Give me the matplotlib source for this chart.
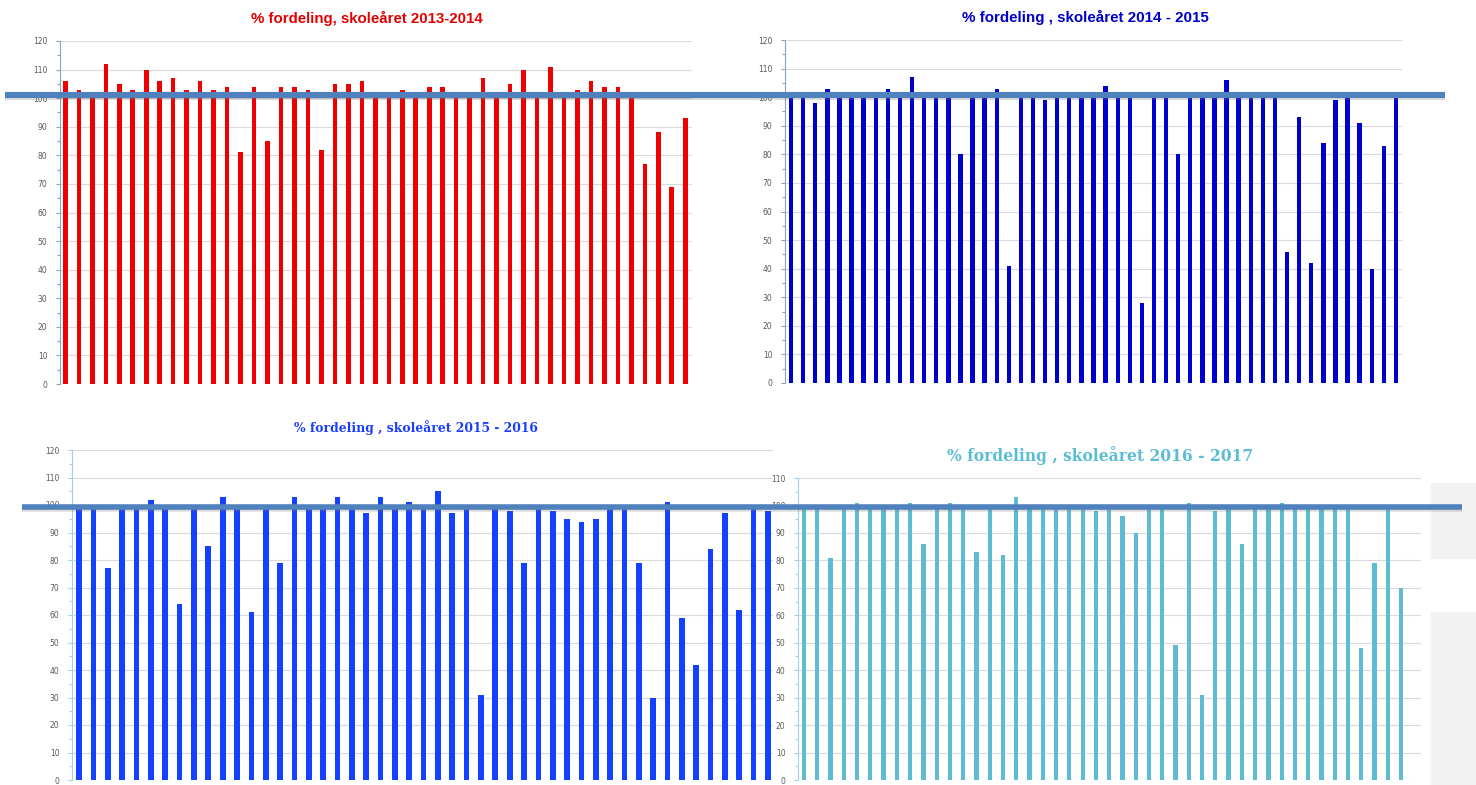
import numpy as np
import matplotlib.pyplot as plt
import matplotlib.transforms as mtransforms
import matplotlib.patheffects as pe
from matplotlib.lines import Line2D
from matplotlib.patches import Rectangle

# % per school, one bar each
pct_2013_2014 = [106, 103, 100, 112, 105, 103, 110, 106, 107, 103, 106, 103, 104, 81,
                 104, 85, 104, 104, 103, 82, 105, 105, 106, 100, 100, 103, 100, 104,
                 104, 100, 100, 107, 100, 105, 110, 100, 111, 100, 103, 106, 104, 104,
                 102, 77, 88, 69, 93]
pct_2014_2015 = [100, 100, 98, 103, 100, 100, 100, 100, 103, 100, 107, 100, 100, 100,
                 80, 100, 100, 103, 41, 100, 100, 99, 100, 100, 100, 100, 104, 100,
                 100, 28, 100, 100, 80, 100, 100, 100, 106, 100, 100, 100, 100, 46,
                 93, 42, 84, 99, 100, 91, 40, 83, 100]
pct_2015_2016 = [100, 100, 77, 100, 100, 102, 100, 64, 100, 85, 103, 100, 61, 100,
                 79, 103, 100, 100, 103, 100, 97, 103, 100, 101, 100, 105, 97, 100,
                 31, 100, 98, 79, 100, 98, 95, 94, 95, 100, 100, 79, 30, 101, 59,
                 42, 84, 97, 62, 100, 98]
pct_2016_2017 = [100, 100, 81, 100, 101, 100, 100, 100, 101, 86, 100, 101, 100, 83,
                 100, 82, 103, 100, 100, 100, 100, 100, 98, 100, 96, 90, 100, 100,
                 49, 101, 31, 98, 100, 86, 100, 100, 101, 100, 100, 100, 100, 100,
                 48, 79, 100, 70]

titles = ['% fordeling, skoleåret 2013-2014',
          '% fordeling , skoleåret 2014 - 2015',
          '% fordeling , skoleåret 2015 - 2016',
          '% fordeling , skoleåret 2016 - 2017']

# level of the two overlaid marker lines (in the scale of the panel below them)
line_top_level = 101
line_bottom_level = 99.4

W, H = 1476, 785
fig = plt.figure(figsize=(W / 100, H / 100), dpi=100)


def panel(rect_px, values, color, width, xlim, ytop, axis_color):
    l, t, r, b = rect_px
    ax = fig.add_axes([l / W, 1 - b / H, (r - l) / W, (b - t) / H])
    x = np.arange(len(values))
    ax.bar(x, values, width=width, color=color, zorder=3)
    ax.set_xlim(*xlim)
    ax.set_ylim(0, ytop)
    ax.set_yticks(np.arange(0, ytop + 1, 10))
    ax.set_yticks(np.arange(5, ytop, 10), minor=True)
    ax.yaxis.grid(True, color='#dadada', lw=0.8, zorder=0)
    ax.set_xticks([])
    for s in ['top', 'right', 'bottom']:
        ax.spines[s].set_visible(False)
    ax.spines['left'].set_color(axis_color)
    ax.tick_params(axis='y', which='both', colors=axis_color, labelcolor='#595959',
                   labelsize=5.5, length=3, width=0.8, pad=6)
    ax.tick_params(axis='y', which='minor', length=2)
    return ax


ax1 = panel((60, 41, 692, 384), pct_2013_2014, '#ee0000', 0.34, (-0.4, 46.5), 120, '#8ba3bd')
ax2 = panel((785, 40, 1402, 383), pct_2014_2015, '#0000cc', 0.36, (-0.5, 50.5), 120, '#8ba3bd')
ax3 = panel((72, 450, 773, 780), pct_2015_2016, '#1440ff', 0.4, (-0.5, 48.35), 120, '#9fd0ee')
ax4 = panel((798, 478, 1421, 780), pct_2016_2017, '#5dbcd4', 0.32, (-0.45, 46.5), 110, '#9fd0ee')

fig.text(367 / W, 1 - 18 / H, titles[0], color='#e30000', fontsize=10.8,
         fontweight='bold', family='Liberation Sans', ha='center', va='center')
fig.text(1085 / W, 1 - 17 / H, titles[1], color='#0000c8', fontsize=10.9,
         fontweight='bold', family='Liberation Sans', ha='center', va='center')
fig.text(416 / W, 1 - 428 / H, titles[2], color='#1a3cff', fontsize=8.9,
         fontweight='bold', family='DejaVu Serif', ha='center', va='center')
fig.text(1100 / W, 1 - 456 / H, titles[3], color='#5bbcd6', fontsize=11.2,
         fontweight='bold', family='DejaVu Serif', ha='center', va='center')

# light grey boxes at right edge
fig.add_artist(Rectangle((1431 / W, 1 - 558 / H), 45 / W, 75 / H,
                         transform=fig.transFigure, color='#f2f2f2', zorder=0))
fig.add_artist(Rectangle((1431 / W, 0), 45 / W, 173 / H,
                         transform=fig.transFigure, color='#f2f2f2', zorder=0))

# thick overlaid lines across both panels
shadow = [pe.SimpleLineShadow(offset=(0, -1.5), shadow_color='#777777', alpha=0.25),
          pe.Normal()]
tr_top = mtransforms.blended_transform_factory(fig.transFigure, ax1.transData)
fig.add_artist(Line2D([5 / W, 1445 / W], [line_top_level, line_top_level],
                      transform=tr_top, color='#4f81bd', lw=4.4,
                      solid_capstyle='butt', path_effects=shadow, zorder=10))
tr_bot = mtransforms.blended_transform_factory(fig.transFigure, ax3.transData)
fig.add_artist(Line2D([22 / W, 1462 / W], [line_bottom_level, line_bottom_level],
                      transform=tr_bot, color='#4f81bd', lw=4.0,
                      solid_capstyle='butt', path_effects=shadow, zorder=10))

fig.savefig('out.png', dpi=100)
